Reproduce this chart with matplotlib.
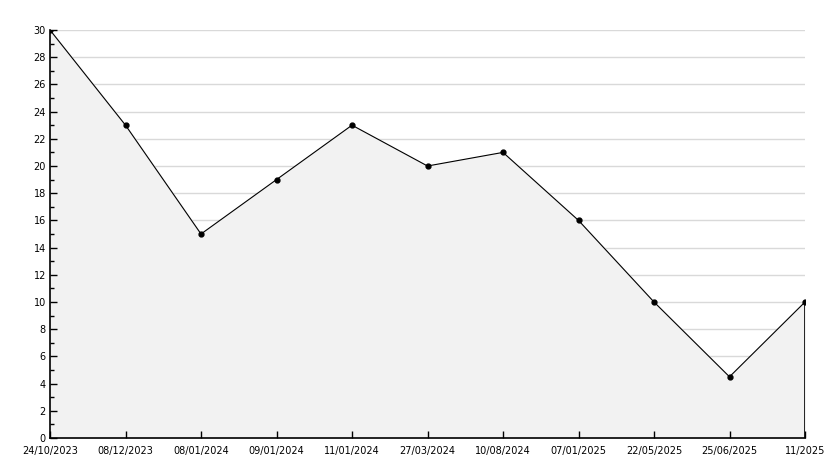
import matplotlib.pyplot as plt
from matplotlib.ticker import MultipleLocator

dates = ['24/10/2023', '08/12/2023', '08/01/2024', '09/01/2024', '11/01/2024',
         '27/03/2024', '10/08/2024', '07/01/2025', '22/05/2025', '25/06/2025', '11/2025']
values = [30, 23, 15, 19, 23, 20, 21, 16, 10, 4.5, 10]

fig = plt.figure(figsize=(8.34, 4.68), dpi=100)
ax = fig.add_axes([50 / 834, 30 / 468, 755 / 834, 408 / 468])

x = list(range(len(dates)))
# grid drawn by hand so it sits under the fill while ticks stay on top
for g in range(2, 31, 2):
    ax.axhline(g, color='#d9d9d9', lw=1, zorder=0.5)
ax.fill_between(x, values, 0, color='#f2f2f2', zorder=1)
ax.plot(x, values, color='black', lw=0.8, marker='o', ms=3.5, zorder=4)
ax.plot([x[-1], x[-1]], [0, values[-1]], color='black', lw=1.2, zorder=3)

ax.set_xlim(0, len(dates) - 1)
ax.set_ylim(0, 30)
ax.set_xticks(x)
ax.set_xticklabels(dates)
ax.yaxis.set_major_locator(MultipleLocator(2))
ax.yaxis.set_minor_locator(MultipleLocator(1))

for s in ['top', 'right']:
    ax.spines[s].set_visible(False)
ax.spines['left'].set_linewidth(1.2)
ax.spines['bottom'].set_linewidth(1.2)

ax.tick_params(axis='both', direction='in', labelsize=7, width=1, length=5, pad=3)
ax.tick_params(axis='y', which='minor', direction='in', length=3, width=1)
ax.tick_params(axis='x', pad=6)

fig.savefig('out.png', dpi=100)
